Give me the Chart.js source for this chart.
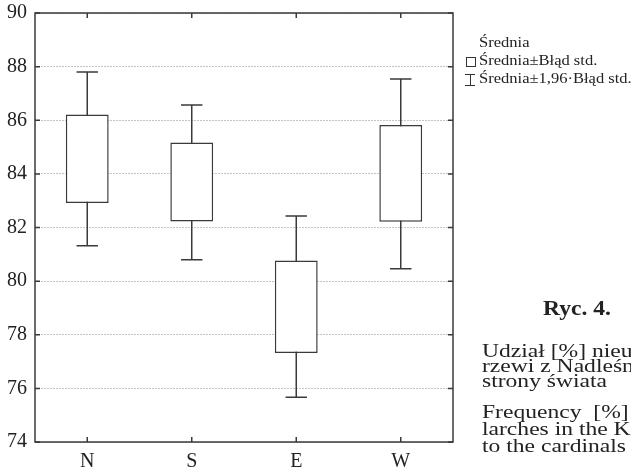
<!DOCTYPE html>
<html>
<head>
<meta charset="utf-8">
<script src="https://cdn.jsdelivr.net/npm/chart.js@4"></script>
<style>
html, body { margin: 0; padding: 0; background: #fff; overflow: hidden; }
#wrap { position: relative; width: 631px; height: 472px; overflow: hidden; font-family: 'Liberation Serif', serif; color: #222; }
#c { position: absolute; left: 0; top: 0; }
.t { position: absolute; white-space: nowrap; transform-origin: 0 0; }
.leg { font-size: 14px; line-height: 14px; transform: scaleX(1.18); }
.cap { font-size: 18px; line-height: 18px; transform: scaleX(1.31); }
.sq { position: absolute; width: 8px; height: 8px; border: 1px solid #333; }
.wh { position: absolute; width: 10px; height: 10px; border-top: 1px solid #333; border-bottom: 1px solid #333; }
.wh:after { content: ''; position: absolute; left: 5px; top: 0; height: 10px; border-left: 1px solid #333; }
</style>
</head>
<body>
<div id="wrap">
  <canvas id="c" width="631" height="472"></canvas>

  <div class="t leg" style="left:479px;top:36px">Średnia</div>
  <div class="sq" style="left:466px;top:57px"></div>
  <div class="t leg" style="left:479px;top:54px">Średnia±Błąd std.</div>
  <div class="wh" style="left:465px;top:74px"></div>
  <div class="t leg" style="left:479px;top:72px">Średnia±1,96·Błąd std.</div>

  <div class="t" style="left:543px;top:298px;font-size:20px;line-height:20px;font-weight:bold;transform:scaleX(1.18)">Ryc. 4.</div>
  <div class="t cap" style="left:482px;top:342px">Udział [%] nieu</div>
  <div class="t cap" style="left:482px;top:357px">rzewi z Nadleśn</div>
  <div class="t cap" style="left:482px;top:372px">strony świata</div>
  <div class="t cap" style="left:482px;top:403px">Frequency&nbsp; [%]</div>
  <div class="t cap" style="left:482px;top:420px">larches in the Kr</div>
  <div class="t cap" style="left:482px;top:437px">to the cardinals</div>
</div>

<script>
// categories and values
const sides = ['N', 'S', 'E', 'W'];
// mean ± standard error (box)
const seLow  = [82.91, 82.22, 77.32, 82.21];
const seHigh = [86.21, 85.17, 80.77, 85.82];
// mean ± 1.96 * standard error (whiskers)
const ciLow  = [81.32, 80.80, 75.67, 80.46];
const ciHigh = [87.80, 86.57, 82.43, 87.54];
// y axis
const yMin = 74, yMax = 90, yStep = 2;

const ink = '#3a3a3a';

// whiskers under the boxes, then a frame with inward ticks on top
const whiskers = {
    id: 'whiskers',
    beforeDatasetsDraw(chart) {
        const ctx = chart.ctx;
        const x = chart.scales.x, y = chart.scales.y;
        const bars = chart.getDatasetMeta(0).data;
        ctx.save();
        ctx.strokeStyle = ink;
        ctx.lineWidth = 1.5;
        sides.forEach((s, i) => {
            const px = x.getPixelForValue(i);
            const half = bars[i].width / 4;
            const top = y.getPixelForValue(ciHigh[i]);
            const bot = y.getPixelForValue(ciLow[i]);
            ctx.beginPath();
            ctx.moveTo(px, top); ctx.lineTo(px, bot);
            ctx.moveTo(px - half, top); ctx.lineTo(px + half, top);
            ctx.moveTo(px - half, bot); ctx.lineTo(px + half, bot);
            ctx.stroke();
        });
        ctx.restore();
    },
    afterDraw(chart) {
        const ctx = chart.ctx;
        const a = chart.chartArea;
        const x = chart.scales.x, y = chart.scales.y;
        const len = 5;
        ctx.save();
        ctx.strokeStyle = ink;
        ctx.lineWidth = 1.5;
        ctx.strokeRect(a.left, a.top, a.right - a.left, a.bottom - a.top);
        ctx.beginPath();
        y.ticks.forEach(t => {
            const py = y.getPixelForValue(t.value);
            ctx.moveTo(a.left, py); ctx.lineTo(a.left + len, py);
            ctx.moveTo(a.right, py); ctx.lineTo(a.right - len, py);
        });
        sides.forEach((s, i) => {
            const px = x.getPixelForValue(i);
            ctx.moveTo(px, a.top); ctx.lineTo(px, a.top + len);
            ctx.moveTo(px, a.bottom); ctx.lineTo(px, a.bottom - len);
        });
        ctx.stroke();
        ctx.restore();
    }
};

new Chart(document.getElementById('c'), {
    type: 'bar',
    data: {
        labels: sides,
        datasets: [{
            label: 'Średnia±Błąd std.',
            data: sides.map((s, i) => [seLow[i], seHigh[i]]),
            backgroundColor: '#ffffff',
            borderColor: ink,
            borderWidth: 1.5,
            borderSkipped: false,
            categoryPercentage: 1,
            barPercentage: 0.41
        }]
    },
    options: {
        responsive: false,
        devicePixelRatio: 1,
        animation: false,
        layout: { padding: { left: 0, top: 13, right: 178, bottom: 0 } },
        plugins: { legend: { display: false }, tooltip: { enabled: false } },
        scales: {
            x: {
                grid: { display: false, drawTicks: false },
                border: { display: false },
                ticks: { color: '#222', font: { family: 'Liberation Serif', size: 20 }, padding: 8 },
                afterFit(scale) { scale.height = 30; scale.paddingLeft = 0; scale.paddingRight = 0; }
            },
            y: {
                min: yMin,
                max: yMax,
                grid: { color: '#c4c4c4', lineWidth: 1, drawTicks: false },
                border: { display: false, dash: [2, 1] },
                ticks: { stepSize: yStep, color: '#222', font: { family: 'Liberation Serif', size: 20 }, padding: 8 },
                afterFit(scale) { scale.width = 35; scale.paddingTop = 0; scale.paddingBottom = 0; }
            }
        }
    },
    plugins: [whiskers]
});
</script>
</body>
</html>
